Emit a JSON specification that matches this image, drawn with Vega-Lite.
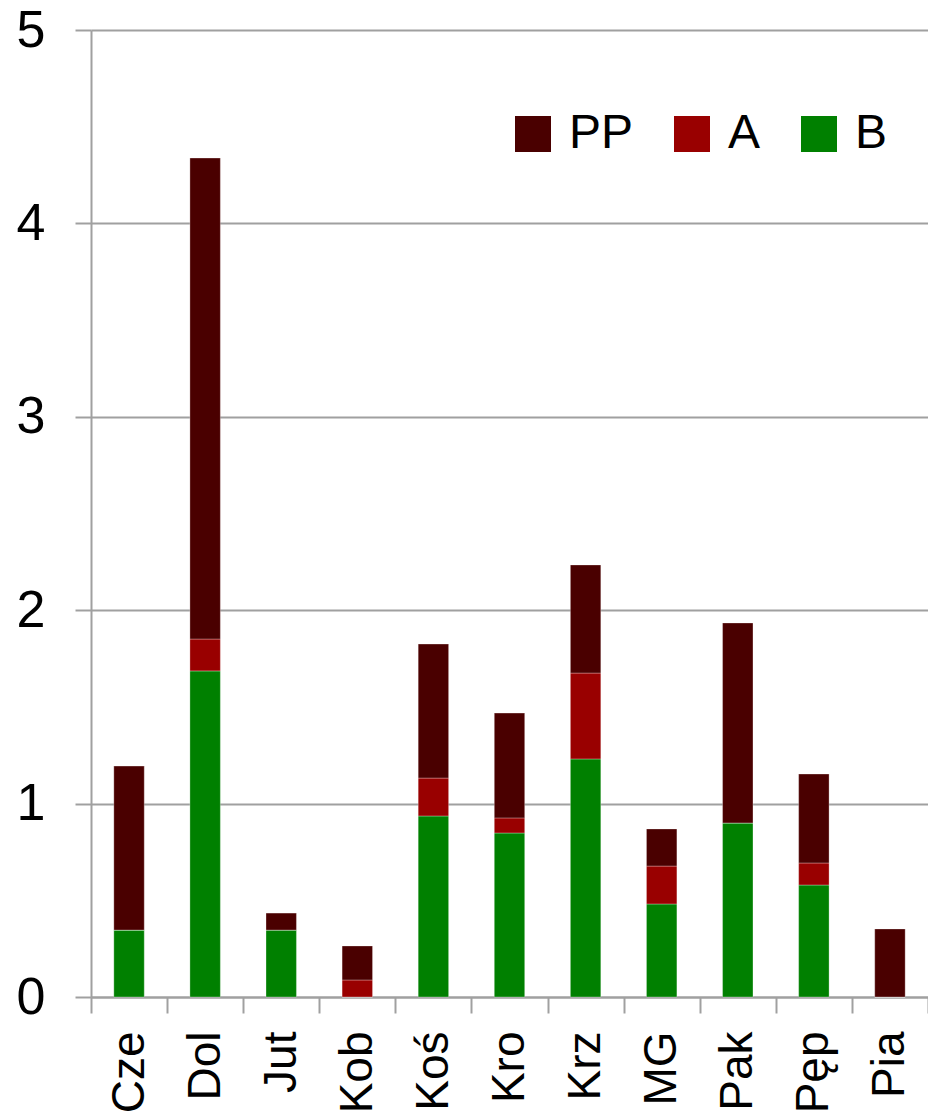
{
  "$schema": "https://vega.github.io/schema/vega-lite/v6.json",
  "width": 837,
  "height": 967,
  "autosize": {"type": "none"},
  "padding": {"left": 91, "top": 30, "right": 0, "bottom": 116},
  "background": "white",
  "data": {
    "values": [
      {"site": "Cze", "series": "B", "value": 0.346},
      {"site": "Cze", "series": "A", "value": 0.0},
      {"site": "Cze", "series": "PP", "value": 0.848},
      {"site": "Dol", "series": "B", "value": 1.686},
      {"site": "Dol", "series": "A", "value": 0.165},
      {"site": "Dol", "series": "PP", "value": 2.487},
      {"site": "Jut", "series": "B", "value": 0.346},
      {"site": "Jut", "series": "A", "value": 0.0},
      {"site": "Jut", "series": "PP", "value": 0.088},
      {"site": "Kob", "series": "B", "value": 0.0},
      {"site": "Kob", "series": "A", "value": 0.088},
      {"site": "Kob", "series": "PP", "value": 0.176},
      {"site": "Koś", "series": "B", "value": 0.936},
      {"site": "Koś", "series": "A", "value": 0.196},
      {"site": "Koś", "series": "PP", "value": 0.693},
      {"site": "Kro", "series": "B", "value": 0.848},
      {"site": "Kro", "series": "A", "value": 0.078},
      {"site": "Kro", "series": "PP", "value": 0.542},
      {"site": "Krz", "series": "B", "value": 1.231},
      {"site": "Krz", "series": "A", "value": 0.444},
      {"site": "Krz", "series": "PP", "value": 0.559},
      {"site": "MG", "series": "B", "value": 0.481},
      {"site": "MG", "series": "A", "value": 0.196},
      {"site": "MG", "series": "PP", "value": 0.192},
      {"site": "Pak", "series": "B", "value": 0.9},
      {"site": "Pak", "series": "A", "value": 0.0},
      {"site": "Pak", "series": "PP", "value": 1.034},
      {"site": "Pęp", "series": "B", "value": 0.579},
      {"site": "Pęp", "series": "A", "value": 0.114},
      {"site": "Pęp", "series": "PP", "value": 0.46},
      {"site": "Pia", "series": "B", "value": 0.0},
      {"site": "Pia", "series": "A", "value": 0.0},
      {"site": "Pia", "series": "PP", "value": 0.352}
    ]
  },
  "transform": [
    {"calculate": "indexof(['B','A','PP'], datum.series)", "as": "stackOrder"}
  ],
  "mark": {"type": "bar", "width": {"band": 0.4}, "stroke": "#ffffff", "strokeWidth": 0.6, "strokeOpacity": 0.5},
  "encoding": {
    "x": {
      "field": "site",
      "type": "nominal",
      "sort": null,
      "scale": {"paddingInner": 0, "paddingOuter": 0},
      "axis": {
        "title": null,
        "labelAngle": -90,
        "labelFont": "Liberation Sans",
        "labelFontSize": 46,
        "labelColor": "#000000",
        "labelPadding": 18,
        "labelBaseline": "middle",
        "tickBand": "extent",
        "tickSize": 16,
        "tickColor": "#a0a0a0",
        "tickWidth": 2,
        "domainColor": "#a0a0a0",
        "domainWidth": 2,
        "grid": false
      }
    },
    "y": {
      "field": "value",
      "type": "quantitative",
      "stack": "zero",
      "scale": {"domain": [0, 5], "nice": false},
      "axis": {
        "title": null,
        "values": [0, 1, 2, 3, 4, 5],
        "labelFont": "Liberation Sans",
        "labelFontSize": 52,
        "labelColor": "#000000",
        "labelPadding": 30,
        "tickSize": 16,
        "tickColor": "#a0a0a0",
        "tickWidth": 2,
        "domainColor": "#a0a0a0",
        "domainWidth": 2,
        "grid": true,
        "gridColor": "#a0a0a0",
        "gridWidth": 2
      }
    },
    "color": {
      "field": "series",
      "type": "nominal",
      "scale": {"domain": ["PP", "A", "B"], "range": ["#4a0000", "#990000", "#008000"]},
      "legend": {
        "title": null,
        "orient": "none",
        "legendX": 418,
        "legendY": 80,
        "direction": "horizontal",
        "symbolType": "square",
        "symbolSize": 1296,
        "symbolStrokeWidth": 0,
        "labelFont": "Liberation Sans",
        "labelFontSize": 48,
        "labelColor": "#000000",
        "labelOffset": 12,
        "columnPadding": 34
      }
    },
    "order": {"field": "stackOrder", "type": "quantitative", "sort": "ascending"}
  },
  "config": {"view": {"stroke": null}}
}
